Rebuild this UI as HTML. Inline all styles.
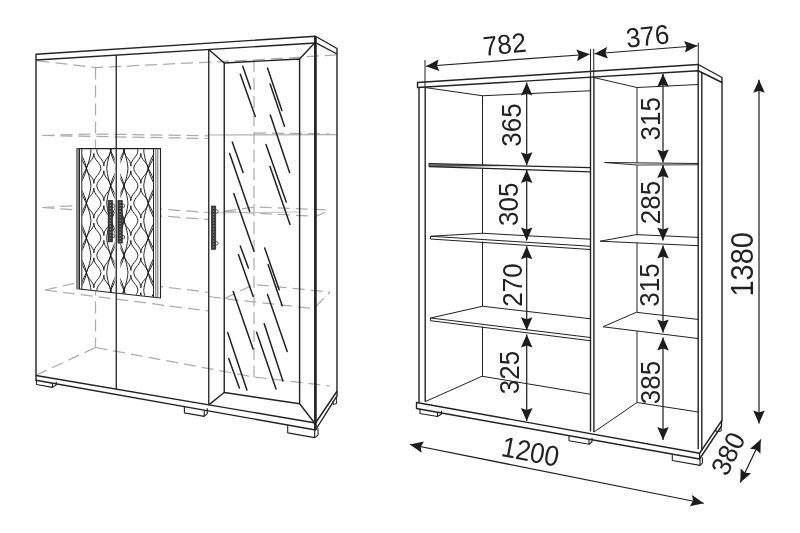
<!DOCTYPE html>
<html><head><meta charset="utf-8"><title>Cabinet</title>
<style>
html,body{margin:0;padding:0;background:#fff;}
body{width:800px;height:533px;overflow:hidden;}
svg{display:block;font-family:"Liberation Sans",sans-serif;will-change:transform;transform:translateZ(0);}
</style></head><body>
<svg width="800" height="533" viewBox="0 0 800 533">
<rect width="800" height="533" fill="#fff"/>
<polyline points="37.50,60.80 95.50,67.50 254.00,60.00 336.00,54.80" fill="none" stroke="#acacac" stroke-width="1.25" stroke-dasharray="12 6"/>
<polyline points="95.50,67.50 95.50,347.50" fill="none" stroke="#acacac" stroke-width="1.25" stroke-dasharray="12 6"/>
<polyline points="95.50,347.50 36.50,375.00" fill="none" stroke="#acacac" stroke-width="1.25" stroke-dasharray="12 6"/>
<polyline points="95.50,347.50 254.00,377.00 330.00,386.00" fill="none" stroke="#acacac" stroke-width="1.25" stroke-dasharray="12 6"/>
<polyline points="254.00,60.00 254.00,377.00" fill="none" stroke="#acacac" stroke-width="1.25" stroke-dasharray="12 6"/>
<polyline points="42.50,135.50 95.50,134.00 208.00,135.80" fill="none" stroke="#acacac" stroke-width="1.25" stroke-dasharray="12 6"/>
<polyline points="42.50,135.50 208.75,138.50" fill="none" stroke="#acacac" stroke-width="1.25" stroke-dasharray="12 6"/>
<polyline points="42.50,207.50 95.50,204.50 208.00,212.50" fill="none" stroke="#acacac" stroke-width="1.25" stroke-dasharray="12 6"/>
<polyline points="42.50,207.50 208.75,219.40" fill="none" stroke="#acacac" stroke-width="1.25" stroke-dasharray="12 6"/>
<polyline points="45.00,290.00 95.50,278.50 208.00,292.30" fill="none" stroke="#acacac" stroke-width="1.25" stroke-dasharray="12 6"/>
<polyline points="45.00,290.00 208.75,311.00" fill="none" stroke="#acacac" stroke-width="1.25" stroke-dasharray="12 6"/>
<polyline points="224.00,298.70 254.00,284.50 330.00,292.00" fill="none" stroke="#acacac" stroke-width="1.25" stroke-dasharray="12 6"/>
<polyline points="208.75,296.50 224.00,298.70 314.00,308.50 330.00,292.00" fill="none" stroke="#acacac" stroke-width="1.25" stroke-dasharray="12 6"/>
<polyline points="224.00,211.40 254.00,207.00 330.00,210.00" fill="none" stroke="#acacac" stroke-width="1.25" stroke-dasharray="12 6"/>
<polyline points="224.00,211.40 316.00,216.40 330.00,210.00" fill="none" stroke="#acacac" stroke-width="1.25" stroke-dasharray="12 6"/>
<polyline points="254.00,133.00 330.00,134.00" fill="none" stroke="#acacac" stroke-width="1.25" stroke-dasharray="12 6"/>
<line x1="209.00" y1="135.00" x2="337.00" y2="134.60" stroke="#b0b0b0" stroke-width="1.1" />
<line x1="209.00" y1="213.00" x2="300.00" y2="212.00" stroke="#c0c0c0" stroke-width="1.0" />
<polygon points="36.00,54.25 315.50,36.25 337.00,48.50 337.00,395.80 315.50,430.00 36.00,380.20" fill="none" stroke="#222" stroke-width="1.4" stroke-linejoin="round" />
<line x1="36.00" y1="60.00" x2="315.50" y2="43.00" stroke="#222" stroke-width="1.4" />
<line x1="315.50" y1="42.60" x2="337.00" y2="54.00" stroke="#222" stroke-width="1.4" />
<line x1="36.00" y1="375.50" x2="315.50" y2="423.00" stroke="#222" stroke-width="1.4" />
<line x1="315.50" y1="423.00" x2="337.00" y2="391.25" stroke="#222" stroke-width="1.4" />
<line x1="315.40" y1="36.50" x2="315.40" y2="429.70" stroke="#222" stroke-width="2.7" />
<line x1="116.25" y1="55.12" x2="116.25" y2="389.14" stroke="#222" stroke-width="1.3" />
<line x1="208.75" y1="49.49" x2="208.75" y2="404.86" stroke="#222" stroke-width="1.3" />
<polygon points="224.25,63.00 299.60,59.00 299.60,403.75 224.25,392.50" fill="none" stroke="#222" stroke-width="1.4" stroke-linejoin="round" />
<line x1="208.75" y1="49.49" x2="224.25" y2="63.00" stroke="#222" stroke-width="1.4" />
<line x1="314.60" y1="43.00" x2="299.60" y2="59.00" stroke="#222" stroke-width="1.4" />
<line x1="208.75" y1="404.86" x2="224.25" y2="392.50" stroke="#222" stroke-width="1.4" />
<line x1="314.60" y1="423.00" x2="299.60" y2="403.75" stroke="#222" stroke-width="1.4" />
<line x1="242.75" y1="66.25" x2="250.60" y2="88.75" stroke="#222" stroke-width="1.5" stroke-linecap="round"/>
<line x1="240.30" y1="74.30" x2="255.30" y2="116.50" stroke="#222" stroke-width="1.5" stroke-linecap="round"/>
<line x1="267.50" y1="68.10" x2="281.90" y2="110.50" stroke="#222" stroke-width="1.5" stroke-linecap="round"/>
<line x1="270.10" y1="84.00" x2="284.50" y2="126.20" stroke="#222" stroke-width="1.5" stroke-linecap="round"/>
<line x1="270.30" y1="115.00" x2="289.60" y2="172.50" stroke="#222" stroke-width="1.5" stroke-linecap="round"/>
<line x1="232.25" y1="142.10" x2="243.10" y2="172.50" stroke="#222" stroke-width="1.5" stroke-linecap="round"/>
<line x1="229.60" y1="153.40" x2="249.70" y2="211.50" stroke="#222" stroke-width="1.5" stroke-linecap="round"/>
<line x1="266.00" y1="144.40" x2="286.25" y2="202.10" stroke="#222" stroke-width="1.5" stroke-linecap="round"/>
<line x1="270.00" y1="166.50" x2="290.00" y2="224.60" stroke="#222" stroke-width="1.5" stroke-linecap="round"/>
<line x1="233.75" y1="193.50" x2="254.00" y2="251.30" stroke="#222" stroke-width="1.5" stroke-linecap="round"/>
<line x1="240.30" y1="246.00" x2="248.40" y2="268.10" stroke="#222" stroke-width="1.5" stroke-linecap="round"/>
<line x1="238.40" y1="254.60" x2="253.10" y2="296.30" stroke="#222" stroke-width="1.5" stroke-linecap="round"/>
<line x1="264.70" y1="248.00" x2="279.20" y2="289.70" stroke="#222" stroke-width="1.5" stroke-linecap="round"/>
<line x1="268.10" y1="264.40" x2="282.20" y2="305.70" stroke="#222" stroke-width="1.5" stroke-linecap="round"/>
<line x1="233.20" y1="291.60" x2="253.10" y2="349.10" stroke="#222" stroke-width="1.5" stroke-linecap="round"/>
<line x1="267.50" y1="294.40" x2="287.20" y2="351.60" stroke="#222" stroke-width="1.5" stroke-linecap="round"/>
<line x1="264.20" y1="323.80" x2="282.90" y2="381.00" stroke="#222" stroke-width="1.5" stroke-linecap="round"/>
<line x1="256.60" y1="332.30" x2="276.00" y2="389.10" stroke="#222" stroke-width="1.5" stroke-linecap="round"/>
<line x1="227.75" y1="332.80" x2="246.90" y2="390.00" stroke="#222" stroke-width="1.5" stroke-linecap="round"/>
<line x1="228.70" y1="358.50" x2="239.40" y2="388.10" stroke="#222" stroke-width="1.5" stroke-linecap="round"/>
<polyline points="36.50,380.29 36.50,384.49 52.50,387.34 52.50,383.14" fill="none" stroke="#222" stroke-width="1.1" stroke-linejoin="round" />
<polyline points="52.50,387.34 56.25,384.84 56.25,381.64" fill="none" stroke="#222" stroke-width="1.1" stroke-linejoin="round" />
<polyline points="184.40,406.64 184.40,412.84 204.20,416.37 204.20,410.17" fill="none" stroke="#222" stroke-width="1.1" stroke-linejoin="round" />
<polyline points="204.20,416.37 207.30,413.57 207.30,408.37" fill="none" stroke="#222" stroke-width="1.1" stroke-linejoin="round" />
<polyline points="287.70,425.05 287.70,432.85 314.70,437.66 314.70,429.86" fill="none" stroke="#222" stroke-width="1.1" stroke-linejoin="round" />
<polyline points="314.70,437.66 318.00,435.16 318.00,428.36" fill="none" stroke="#222" stroke-width="1.1" stroke-linejoin="round" />
<polyline points="333.00,401.00 333.00,404.50 336.60,403.50 336.60,396.00" fill="none" stroke="#222" stroke-width="1.0" stroke-linejoin="round" />
<defs><clipPath id="cpL"><polygon points="82.3,149.2 114.7,149.2 114.7,292.33 82.3,288.74"/></clipPath>
<clipPath id="cpR"><polygon points="120.3,149.2 153,149.2 153,296.57 120.3,292.95"/></clipPath></defs>
<polygon points="77.00,148.60 160.50,148.60 160.50,298.00 77.00,288.75" fill="#fff" stroke="#222" stroke-width="1.1" stroke-linejoin="round" />
<polygon points="77,148.6 79.5,148.6 79.5,289.03 77,288.75" fill="#888"/>
<line x1="79.50" y1="148.60" x2="79.50" y2="289.03" stroke="#222" stroke-width="1.0" />
<line x1="81.80" y1="148.60" x2="81.80" y2="289.28" stroke="#222" stroke-width="1.0" />
<line x1="153.50" y1="148.60" x2="153.50" y2="297.22" stroke="#222" stroke-width="1.0" />
<line x1="155.80" y1="148.60" x2="155.80" y2="297.48" stroke="#666" stroke-width="1.0" />
<line x1="157.80" y1="148.60" x2="157.80" y2="297.70" stroke="#666" stroke-width="1.0" />
<path d="M79.50,116.20 C80.40,118.20 85.62,127.07 86.40,133.60 C85.62,140.13 80.40,149.00 79.50,151.00 C78.60,149.00 72.84,140.13 72.00,133.60 C72.84,127.07 78.60,118.20 79.50,116.20  M79.50,151.00 C80.40,153.00 85.62,161.87 86.40,168.40 C85.62,174.93 80.40,183.80 79.50,185.80 C78.60,183.80 72.84,174.93 72.00,168.40 C72.84,161.87 78.60,153.00 79.50,151.00  M79.50,185.80 C80.40,187.80 85.62,196.67 86.40,203.20 C85.62,209.73 80.40,218.60 79.50,220.60 C78.60,218.60 72.84,209.73 72.00,203.20 C72.84,196.67 78.60,187.80 79.50,185.80  M79.50,220.60 C80.40,222.60 85.62,231.47 86.40,238.00 C85.62,244.53 80.40,253.40 79.50,255.40 C78.60,253.40 72.84,244.53 72.00,238.00 C72.84,231.47 78.60,222.60 79.50,220.60  M79.50,255.40 C80.40,257.40 85.62,266.27 86.40,272.80 C85.62,279.33 80.40,288.20 79.50,290.20 C78.60,288.20 72.84,279.33 72.00,272.80 C72.84,266.27 78.60,257.40 79.50,255.40  M79.50,290.20 C80.40,292.20 85.62,301.07 86.40,307.60 C85.62,314.13 80.40,323.00 79.50,325.00 C78.60,323.00 72.84,314.13 72.00,307.60 C72.84,301.07 78.60,292.20 79.50,290.20  M86.40,133.60 C87.30,135.60 90.44,144.47 90.95,151.00 C90.44,157.53 87.30,166.40 86.40,168.40 C85.50,166.40 80.28,157.53 79.50,151.00 C80.28,144.47 85.50,135.60 86.40,133.60  M86.40,168.40 C87.30,170.40 90.44,179.27 90.95,185.80 C90.44,192.33 87.30,201.20 86.40,203.20 C85.50,201.20 80.28,192.33 79.50,185.80 C80.28,179.27 85.50,170.40 86.40,168.40  M86.40,203.20 C87.30,205.20 90.44,214.07 90.95,220.60 C90.44,227.13 87.30,236.00 86.40,238.00 C85.50,236.00 80.28,227.13 79.50,220.60 C80.28,214.07 85.50,205.20 86.40,203.20  M86.40,238.00 C87.30,240.00 90.44,248.87 90.95,255.40 C90.44,261.93 87.30,270.80 86.40,272.80 C85.50,270.80 80.28,261.93 79.50,255.40 C80.28,248.87 85.50,240.00 86.40,238.00  M86.40,272.80 C87.30,274.80 90.44,283.67 90.95,290.20 C90.44,296.73 87.30,305.60 86.40,307.60 C85.50,305.60 80.28,296.73 79.50,290.20 C80.28,283.67 85.50,274.80 86.40,272.80  M93.85,118.65 C93.85,125.65 100.15,127.07 100.95,133.60 C100.15,140.13 93.85,141.55 93.85,148.55 C93.85,141.55 87.24,140.13 86.40,133.60 C87.24,127.07 93.85,125.65 93.85,118.65  M93.85,153.45 C93.85,160.45 100.15,161.87 100.95,168.40 C100.15,174.93 93.85,176.35 93.85,183.35 C93.85,176.35 87.24,174.93 86.40,168.40 C87.24,161.87 93.85,160.45 93.85,153.45  M93.85,188.25 C93.85,195.25 100.15,196.67 100.95,203.20 C100.15,209.73 93.85,211.15 93.85,218.15 C93.85,211.15 87.24,209.73 86.40,203.20 C87.24,196.67 93.85,195.25 93.85,188.25  M93.85,223.05 C93.85,230.05 100.15,231.47 100.95,238.00 C100.15,244.53 93.85,245.95 93.85,252.95 C93.85,245.95 87.24,244.53 86.40,238.00 C87.24,231.47 93.85,230.05 93.85,223.05  M93.85,257.85 C93.85,264.85 100.15,266.27 100.95,272.80 C100.15,279.33 93.85,280.75 93.85,287.75 C93.85,280.75 87.24,279.33 86.40,272.80 C87.24,266.27 93.85,264.85 93.85,257.85  M93.85,292.65 C93.85,299.65 100.15,301.07 100.95,307.60 C100.15,314.13 93.85,315.55 93.85,322.55 C93.85,315.55 87.24,314.13 86.40,307.60 C87.24,301.07 93.85,299.65 93.85,292.65  M103.85,136.05 C103.85,143.05 109.93,144.47 110.70,151.00 C109.93,157.53 103.85,158.95 103.85,165.95 C103.85,158.95 97.55,157.53 96.75,151.00 C97.55,144.47 103.85,143.05 103.85,136.05  M103.85,170.85 C103.85,177.85 109.93,179.27 110.70,185.80 C109.93,192.33 103.85,193.75 103.85,200.75 C103.85,193.75 97.55,192.33 96.75,185.80 C97.55,179.27 103.85,177.85 103.85,170.85  M103.85,205.65 C103.85,212.65 109.93,214.07 110.70,220.60 C109.93,227.13 103.85,228.55 103.85,235.55 C103.85,228.55 97.55,227.13 96.75,220.60 C97.55,214.07 103.85,212.65 103.85,205.65  M103.85,240.45 C103.85,247.45 109.93,248.87 110.70,255.40 C109.93,261.93 103.85,263.35 103.85,270.35 C103.85,263.35 97.55,261.93 96.75,255.40 C97.55,248.87 103.85,247.45 103.85,240.45  M103.85,275.25 C103.85,282.25 109.93,283.67 110.70,290.20 C109.93,296.73 103.85,298.15 103.85,305.15 C103.85,298.15 97.55,296.73 96.75,290.20 C97.55,283.67 103.85,282.25 103.85,275.25  M110.70,116.20 C111.60,118.20 116.74,127.07 117.50,133.60 C116.74,140.13 111.60,149.00 110.70,151.00 C109.80,149.00 107.19,140.13 106.75,133.60 C107.19,127.07 109.80,118.20 110.70,116.20  M110.70,151.00 C111.60,153.00 116.74,161.87 117.50,168.40 C116.74,174.93 111.60,183.80 110.70,185.80 C109.80,183.80 107.19,174.93 106.75,168.40 C107.19,161.87 109.80,153.00 110.70,151.00  M110.70,185.80 C111.60,187.80 116.74,196.67 117.50,203.20 C116.74,209.73 111.60,218.60 110.70,220.60 C109.80,218.60 107.19,209.73 106.75,203.20 C107.19,196.67 109.80,187.80 110.70,185.80  M110.70,220.60 C111.60,222.60 116.74,231.47 117.50,238.00 C116.74,244.53 111.60,253.40 110.70,255.40 C109.80,253.40 107.19,244.53 106.75,238.00 C107.19,231.47 109.80,222.60 110.70,220.60  M110.70,255.40 C111.60,257.40 116.74,266.27 117.50,272.80 C116.74,279.33 111.60,288.20 110.70,290.20 C109.80,288.20 107.19,279.33 106.75,272.80 C107.19,266.27 109.80,257.40 110.70,255.40  M110.70,290.20 C111.60,292.20 116.74,301.07 117.50,307.60 C116.74,314.13 111.60,323.00 110.70,325.00 C109.80,323.00 107.19,314.13 106.75,307.60 C107.19,301.07 109.80,292.20 110.70,290.20  M117.50,133.60 C118.40,135.60 124.16,144.47 125.00,151.00 C124.16,157.53 118.40,166.40 117.50,168.40 C116.60,166.40 111.46,157.53 110.70,151.00 C111.46,144.47 116.60,135.60 117.50,133.60  M117.50,168.40 C118.40,170.40 124.16,179.27 125.00,185.80 C124.16,192.33 118.40,201.20 117.50,203.20 C116.60,201.20 111.46,192.33 110.70,185.80 C111.46,179.27 116.60,170.40 117.50,168.40  M117.50,203.20 C118.40,205.20 124.16,214.07 125.00,220.60 C124.16,227.13 118.40,236.00 117.50,238.00 C116.60,236.00 111.46,227.13 110.70,220.60 C111.46,214.07 116.60,205.20 117.50,203.20  M117.50,238.00 C118.40,240.00 124.16,248.87 125.00,255.40 C124.16,261.93 118.40,270.80 117.50,272.80 C116.60,270.80 111.46,261.93 110.70,255.40 C111.46,248.87 116.60,240.00 117.50,238.00  M117.50,272.80 C118.40,274.80 124.16,283.67 125.00,290.20 C124.16,296.73 118.40,305.60 117.50,307.60 C116.60,305.60 111.46,296.73 110.70,290.20 C111.46,283.67 116.60,274.80 117.50,272.80 " fill="none" stroke="#1a1a1a" stroke-width="0.95" stroke-linejoin="round" clip-path="url(#cpL)"/>
<path d="M117.20,133.60 C118.10,135.60 123.24,144.47 124.00,151.00 C123.24,157.53 118.10,166.40 117.20,168.40 C116.30,166.40 110.54,157.53 109.70,151.00 C110.54,144.47 116.30,135.60 117.20,133.60  M117.20,168.40 C118.10,170.40 123.24,179.27 124.00,185.80 C123.24,192.33 118.10,201.20 117.20,203.20 C116.30,201.20 110.54,192.33 109.70,185.80 C110.54,179.27 116.30,170.40 117.20,168.40  M117.20,203.20 C118.10,205.20 123.24,214.07 124.00,220.60 C123.24,227.13 118.10,236.00 117.20,238.00 C116.30,236.00 110.54,227.13 109.70,220.60 C110.54,214.07 116.30,205.20 117.20,203.20  M117.20,238.00 C118.10,240.00 123.24,248.87 124.00,255.40 C123.24,261.93 118.10,270.80 117.20,272.80 C116.30,270.80 110.54,261.93 109.70,255.40 C110.54,248.87 116.30,240.00 117.20,238.00  M117.20,272.80 C118.10,274.80 123.24,283.67 124.00,290.20 C123.24,296.73 118.10,305.60 117.20,307.60 C116.30,305.60 110.54,296.73 109.70,290.20 C110.54,283.67 116.30,274.80 117.20,272.80  M124.00,116.20 C124.90,118.20 127.51,127.07 127.95,133.60 C127.51,140.13 124.90,149.00 124.00,151.00 C123.10,149.00 117.96,140.13 117.20,133.60 C117.96,127.07 123.10,118.20 124.00,116.20  M124.00,151.00 C124.90,153.00 127.51,161.87 127.95,168.40 C127.51,174.93 124.90,183.80 124.00,185.80 C123.10,183.80 117.96,174.93 117.20,168.40 C117.96,161.87 123.10,153.00 124.00,151.00  M124.00,185.80 C124.90,187.80 127.51,196.67 127.95,203.20 C127.51,209.73 124.90,218.60 124.00,220.60 C123.10,218.60 117.96,209.73 117.20,203.20 C117.96,196.67 123.10,187.80 124.00,185.80  M124.00,220.60 C124.90,222.60 127.51,231.47 127.95,238.00 C127.51,244.53 124.90,253.40 124.00,255.40 C123.10,253.40 117.96,244.53 117.20,238.00 C117.96,231.47 123.10,222.60 124.00,220.60  M124.00,255.40 C124.90,257.40 127.51,266.27 127.95,272.80 C127.51,279.33 124.90,288.20 124.00,290.20 C123.10,288.20 117.96,279.33 117.20,272.80 C117.96,266.27 123.10,257.40 124.00,255.40  M124.00,290.20 C124.90,292.20 127.51,301.07 127.95,307.60 C127.51,314.13 124.90,323.00 124.00,325.00 C123.10,323.00 117.96,314.13 117.20,307.60 C117.96,301.07 123.10,292.20 124.00,290.20  M130.85,136.05 C130.85,143.05 137.15,144.47 137.95,151.00 C137.15,157.53 130.85,158.95 130.85,165.95 C130.85,158.95 124.77,157.53 124.00,151.00 C124.77,144.47 130.85,143.05 130.85,136.05  M130.85,170.85 C130.85,177.85 137.15,179.27 137.95,185.80 C137.15,192.33 130.85,193.75 130.85,200.75 C130.85,193.75 124.77,192.33 124.00,185.80 C124.77,179.27 130.85,177.85 130.85,170.85  M130.85,205.65 C130.85,212.65 137.15,214.07 137.95,220.60 C137.15,227.13 130.85,228.55 130.85,235.55 C130.85,228.55 124.77,227.13 124.00,220.60 C124.77,214.07 130.85,212.65 130.85,205.65  M130.85,240.45 C130.85,247.45 137.15,248.87 137.95,255.40 C137.15,261.93 130.85,263.35 130.85,270.35 C130.85,263.35 124.77,261.93 124.00,255.40 C124.77,248.87 130.85,247.45 130.85,240.45  M130.85,275.25 C130.85,282.25 137.15,283.67 137.95,290.20 C137.15,296.73 130.85,298.15 130.85,305.15 C130.85,298.15 124.77,296.73 124.00,290.20 C124.77,283.67 130.85,282.25 130.85,275.25  M140.85,118.65 C140.85,125.65 147.46,127.07 148.30,133.60 C147.46,140.13 140.85,141.55 140.85,148.55 C140.85,141.55 134.55,140.13 133.75,133.60 C134.55,127.07 140.85,125.65 140.85,118.65  M140.85,153.45 C140.85,160.45 147.46,161.87 148.30,168.40 C147.46,174.93 140.85,176.35 140.85,183.35 C140.85,176.35 134.55,174.93 133.75,168.40 C134.55,161.87 140.85,160.45 140.85,153.45  M140.85,188.25 C140.85,195.25 147.46,196.67 148.30,203.20 C147.46,209.73 140.85,211.15 140.85,218.15 C140.85,211.15 134.55,209.73 133.75,203.20 C134.55,196.67 140.85,195.25 140.85,188.25  M140.85,223.05 C140.85,230.05 147.46,231.47 148.30,238.00 C147.46,244.53 140.85,245.95 140.85,252.95 C140.85,245.95 134.55,244.53 133.75,238.00 C134.55,231.47 140.85,230.05 140.85,223.05  M140.85,257.85 C140.85,264.85 147.46,266.27 148.30,272.80 C147.46,279.33 140.85,280.75 140.85,287.75 C140.85,280.75 134.55,279.33 133.75,272.80 C134.55,266.27 140.85,264.85 140.85,257.85  M140.85,292.65 C140.85,299.65 147.46,301.07 148.30,307.60 C147.46,314.13 140.85,315.55 140.85,322.55 C140.85,315.55 134.55,314.13 133.75,307.60 C134.55,301.07 140.85,299.65 140.85,292.65  M148.30,133.60 C149.20,135.60 154.42,144.47 155.20,151.00 C154.42,157.53 149.20,166.40 148.30,168.40 C147.40,166.40 144.26,157.53 143.75,151.00 C144.26,144.47 147.40,135.60 148.30,133.60  M148.30,168.40 C149.20,170.40 154.42,179.27 155.20,185.80 C154.42,192.33 149.20,201.20 148.30,203.20 C147.40,201.20 144.26,192.33 143.75,185.80 C144.26,179.27 147.40,170.40 148.30,168.40  M148.30,203.20 C149.20,205.20 154.42,214.07 155.20,220.60 C154.42,227.13 149.20,236.00 148.30,238.00 C147.40,236.00 144.26,227.13 143.75,220.60 C144.26,214.07 147.40,205.20 148.30,203.20  M148.30,238.00 C149.20,240.00 154.42,248.87 155.20,255.40 C154.42,261.93 149.20,270.80 148.30,272.80 C147.40,270.80 144.26,261.93 143.75,255.40 C144.26,248.87 147.40,240.00 148.30,238.00  M148.30,272.80 C149.20,274.80 154.42,283.67 155.20,290.20 C154.42,296.73 149.20,305.60 148.30,307.60 C147.40,305.60 144.26,296.73 143.75,290.20 C144.26,283.67 147.40,274.80 148.30,272.80  M155.20,116.20 C156.10,118.20 161.86,127.07 162.70,133.60 C161.86,140.13 156.10,149.00 155.20,151.00 C154.30,149.00 149.08,140.13 148.30,133.60 C149.08,127.07 154.30,118.20 155.20,116.20  M155.20,151.00 C156.10,153.00 161.86,161.87 162.70,168.40 C161.86,174.93 156.10,183.80 155.20,185.80 C154.30,183.80 149.08,174.93 148.30,168.40 C149.08,161.87 154.30,153.00 155.20,151.00  M155.20,185.80 C156.10,187.80 161.86,196.67 162.70,203.20 C161.86,209.73 156.10,218.60 155.20,220.60 C154.30,218.60 149.08,209.73 148.30,203.20 C149.08,196.67 154.30,187.80 155.20,185.80  M155.20,220.60 C156.10,222.60 161.86,231.47 162.70,238.00 C161.86,244.53 156.10,253.40 155.20,255.40 C154.30,253.40 149.08,244.53 148.30,238.00 C149.08,231.47 154.30,222.60 155.20,220.60  M155.20,255.40 C156.10,257.40 161.86,266.27 162.70,272.80 C161.86,279.33 156.10,288.20 155.20,290.20 C154.30,288.20 149.08,279.33 148.30,272.80 C149.08,266.27 154.30,257.40 155.20,255.40  M155.20,290.20 C156.10,292.20 161.86,301.07 162.70,307.60 C161.86,314.13 156.10,323.00 155.20,325.00 C154.30,323.00 149.08,314.13 148.30,307.60 C149.08,301.07 154.30,292.20 155.20,290.20 " fill="none" stroke="#1a1a1a" stroke-width="0.95" stroke-linejoin="round" clip-path="url(#cpR)"/>
<line x1="116.25" y1="148.60" x2="116.25" y2="293.10" stroke="#222" stroke-width="1.3" />
<circle cx="113.20" cy="205.80" r="1.7" fill="#fff" stroke="#333" stroke-width="0.8"/>
<circle cx="113.20" cy="235.90" r="1.7" fill="#fff" stroke="#333" stroke-width="0.8"/>
<rect x="108.1" y="200.3" width="4.5" height="41.599999999999994" fill="#383838" stroke="#222" stroke-width="0.6"/>
<line x1="110.35" y1="201.8" x2="110.35" y2="240.9" stroke="#8a8a8a" stroke-width="1.3" stroke-dasharray="1.3 1.7"/>
<circle cx="123.00" cy="205.80" r="1.7" fill="#fff" stroke="#333" stroke-width="0.8"/>
<circle cx="123.00" cy="237.10" r="1.7" fill="#fff" stroke="#333" stroke-width="0.8"/>
<rect x="117.9" y="200.3" width="4.5" height="42.79999999999998" fill="#383838" stroke="#222" stroke-width="0.6"/>
<line x1="120.15" y1="201.8" x2="120.15" y2="242.1" stroke="#8a8a8a" stroke-width="1.3" stroke-dasharray="1.3 1.7"/>
<circle cx="216.40" cy="211.50" r="1.7" fill="#fff" stroke="#333" stroke-width="0.8"/>
<circle cx="216.40" cy="243.30" r="1.7" fill="#fff" stroke="#333" stroke-width="0.8"/>
<rect x="211.3" y="206" width="4.5" height="43.30000000000001" fill="#383838" stroke="#222" stroke-width="0.6"/>
<line x1="213.55" y1="207.5" x2="213.55" y2="248.3" stroke="#8a8a8a" stroke-width="1.3" stroke-dasharray="1.3 1.7"/>
<polygon points="417.50,82.50 698.25,64.50 722.00,77.50 722.00,82.50 698.25,70.75 417.50,87.50" fill="none" stroke="#222" stroke-width="1.4" stroke-linejoin="round" />
<line x1="698.25" y1="64.50" x2="698.25" y2="70.75" stroke="#222" stroke-width="1.4" />
<line x1="722.00" y1="82.50" x2="722.00" y2="421.50" stroke="#222" stroke-width="1.4" />
<line x1="419.00" y1="87.50" x2="419.00" y2="402.50" stroke="#222" stroke-width="1.4" />
<line x1="425.20" y1="87.20" x2="425.20" y2="401.80" stroke="#222" stroke-width="1.4" />
<line x1="590.50" y1="77.18" x2="590.50" y2="431.50" stroke="#222" stroke-width="1.4" />
<line x1="593.90" y1="76.98" x2="593.90" y2="432.00" stroke="#222" stroke-width="1.4" />
<line x1="698.20" y1="70.75" x2="698.20" y2="449.20" stroke="#222" stroke-width="1.4" />
<line x1="701.80" y1="72.50" x2="701.80" y2="449.60" stroke="#222" stroke-width="1.4" />
<polygon points="416.50,402.50 699.60,453.25 721.50,420.80 721.50,426.00 699.60,459.00 416.50,408.50" fill="none" stroke="#222" stroke-width="1.4" stroke-linejoin="round" />
<line x1="699.60" y1="453.25" x2="699.60" y2="459.00" stroke="#222" stroke-width="1.4" />
<polyline points="425.00,87.50 482.50,95.75 590.50,90.75" fill="none" stroke="#222" stroke-width="1.0" stroke-linejoin="round" />
<polyline points="425.30,401.60 482.00,376.25 590.50,394.25" fill="none" stroke="#222" stroke-width="1.0" stroke-linejoin="round" />
<line x1="482.50" y1="95.75" x2="482.50" y2="165.50" stroke="#222" stroke-width="1.0" />
<line x1="482.50" y1="168.30" x2="482.50" y2="233.25" stroke="#222" stroke-width="1.0" />
<line x1="482.50" y1="241.50" x2="482.50" y2="306.25" stroke="#222" stroke-width="1.0" />
<line x1="482.50" y1="326.50" x2="482.50" y2="376.25" stroke="#222" stroke-width="1.0" />
<polygon points="429,163.5 500,165.3 429,166.4" fill="#777"/>
<polyline points="429.00,163.50 590.50,167.70" fill="none" stroke="#222" stroke-width="1.2" stroke-linejoin="round" />
<polyline points="429.00,166.60 590.50,171.80" fill="none" stroke="#222" stroke-width="1.2" stroke-linejoin="round" />
<line x1="429.00" y1="163.50" x2="429.00" y2="166.60" stroke="#222" stroke-width="1.0" />
<polyline points="429.00,166.30 505.00,165.60" fill="none" stroke="#222" stroke-width="0.9" stroke-linejoin="round" />
<polyline points="430.50,236.25 482.50,233.25 590.50,239.25" fill="none" stroke="#222" stroke-width="1.0" stroke-linejoin="round" />
<polyline points="430.50,236.25 590.50,246.25" fill="none" stroke="#222" stroke-width="1.0" stroke-linejoin="round" />
<polyline points="430.50,236.25 430.50,239.00 590.50,249.50" fill="none" stroke="#222" stroke-width="1.0" stroke-linejoin="round" />
<polyline points="430.50,318.00 482.50,306.25 590.50,318.75" fill="none" stroke="#222" stroke-width="1.0" stroke-linejoin="round" />
<polyline points="430.50,318.00 590.50,337.50" fill="none" stroke="#222" stroke-width="1.0" stroke-linejoin="round" />
<polyline points="430.50,318.00 430.50,320.70 590.50,340.75" fill="none" stroke="#222" stroke-width="1.0" stroke-linejoin="round" />
<polyline points="593.75,77.50 637.00,87.50 698.25,84.50" fill="none" stroke="#222" stroke-width="1.0" stroke-linejoin="round" />
<polyline points="594.00,432.00 637.00,402.50 698.20,412.00" fill="none" stroke="#222" stroke-width="1.0" stroke-linejoin="round" />
<line x1="637.00" y1="87.50" x2="637.00" y2="162.80" stroke="#222" stroke-width="1.0" />
<line x1="637.00" y1="165.00" x2="637.00" y2="235.30" stroke="#222" stroke-width="1.0" />
<line x1="637.00" y1="243.00" x2="637.00" y2="312.00" stroke="#222" stroke-width="1.0" />
<line x1="637.00" y1="331.00" x2="637.00" y2="402.50" stroke="#222" stroke-width="1.0" />
<polyline points="604.50,162.50 698.25,163.50" fill="none" stroke="#222" stroke-width="1.0" stroke-linejoin="round" />
<polyline points="604.50,162.50 637.00,165.00 698.25,164.75" fill="none" stroke="#222" stroke-width="0.9" stroke-linejoin="round" />
<polyline points="600.10,241.20 636.30,234.60 698.00,237.40" fill="none" stroke="#222" stroke-width="1.0" stroke-linejoin="round" />
<polyline points="600.10,241.20 698.00,245.70" fill="none" stroke="#222" stroke-width="1.0" stroke-linejoin="round" />
<polyline points="603.00,326.80 636.30,312.30 698.00,319.40" fill="none" stroke="#222" stroke-width="1.0" stroke-linejoin="round" />
<polyline points="603.00,326.80 698.00,338.50" fill="none" stroke="#222" stroke-width="1.0" stroke-linejoin="round" />
<polyline points="420.00,409.12 420.00,413.42 437.50,416.55 437.50,412.25" fill="none" stroke="#222" stroke-width="1.1" stroke-linejoin="round" />
<polyline points="437.50,416.55 441.50,413.95 441.50,410.65" fill="none" stroke="#222" stroke-width="1.1" stroke-linejoin="round" />
<polyline points="569.00,435.70 569.00,440.70 589.00,444.27 589.00,439.27" fill="none" stroke="#222" stroke-width="1.1" stroke-linejoin="round" />
<polyline points="589.00,444.27 592.00,441.77 592.00,437.77" fill="none" stroke="#222" stroke-width="1.1" stroke-linejoin="round" />
<polyline points="672.30,454.13 672.30,460.43 700.00,465.37 700.00,459.07" fill="none" stroke="#222" stroke-width="1.1" stroke-linejoin="round" />
<polyline points="700.00,465.37 702.40,462.77 702.40,457.47" fill="none" stroke="#222" stroke-width="1.1" stroke-linejoin="round" />
<polyline points="716.00,428.50 716.00,432.00 721.20,431.00 721.20,426.25" fill="none" stroke="#222" stroke-width="1.0" stroke-linejoin="round" />
<line x1="425.00" y1="60.00" x2="425.00" y2="87.50" stroke="#222" stroke-width="1.0" />
<line x1="590.50" y1="48.75" x2="590.50" y2="77.18" stroke="#222" stroke-width="1.0" />
<line x1="593.75" y1="48.75" x2="593.75" y2="76.98" stroke="#222" stroke-width="1.0" />
<line x1="698.25" y1="42.50" x2="698.25" y2="64.50" stroke="#222" stroke-width="1.0" />
<line x1="426.00" y1="66.25" x2="589.70" y2="54.25" stroke="#222" stroke-width="1.25" />
<polygon points="589.70,54.25 577.16,60.94 578.73,55.05 576.31,49.47" fill="#1c1c1c"/>
<polygon points="426.00,66.25 438.54,59.56 436.97,65.45 439.39,71.03" fill="#1c1c1c"/>
<line x1="594.50" y1="53.75" x2="697.50" y2="45.75" stroke="#222" stroke-width="1.25" />
<polygon points="697.50,45.75 684.98,52.49 686.53,46.60 684.09,41.02" fill="#1c1c1c"/>
<polygon points="594.50,53.75 607.02,47.01 605.47,52.90 607.91,58.48" fill="#1c1c1c"/>
<line x1="526.70" y1="82.50" x2="526.70" y2="165.30" stroke="#222" stroke-width="1.25" />
<polygon points="526.70,165.30 520.95,152.30 526.70,154.30 532.45,152.30" fill="#1c1c1c"/>
<polygon points="526.70,82.50 532.45,95.50 526.70,93.50 520.95,95.50" fill="#1c1c1c"/>
<line x1="526.70" y1="170.00" x2="526.70" y2="240.60" stroke="#222" stroke-width="1.25" />
<polygon points="526.70,240.60 520.95,227.60 526.70,229.60 532.45,227.60" fill="#1c1c1c"/>
<polygon points="526.70,170.00 532.45,183.00 526.70,181.00 520.95,183.00" fill="#1c1c1c"/>
<line x1="526.70" y1="246.30" x2="526.70" y2="330.30" stroke="#222" stroke-width="1.25" />
<polygon points="526.70,330.30 520.95,317.30 526.70,319.30 532.45,317.30" fill="#1c1c1c"/>
<polygon points="526.70,246.30 532.45,259.30 526.70,257.30 520.95,259.30" fill="#1c1c1c"/>
<line x1="526.70" y1="334.40" x2="526.70" y2="421.00" stroke="#222" stroke-width="1.25" />
<polygon points="526.70,421.00 520.95,408.00 526.70,410.00 532.45,408.00" fill="#1c1c1c"/>
<polygon points="526.70,334.40 532.45,347.40 526.70,345.40 520.95,347.40" fill="#1c1c1c"/>
<line x1="663.00" y1="73.75" x2="663.00" y2="162.50" stroke="#222" stroke-width="1.25" />
<polygon points="663.00,162.50 657.25,149.50 663.00,151.50 668.75,149.50" fill="#1c1c1c"/>
<polygon points="663.00,73.75 668.75,86.75 663.00,84.75 657.25,86.75" fill="#1c1c1c"/>
<line x1="663.00" y1="165.00" x2="663.00" y2="240.50" stroke="#222" stroke-width="1.25" />
<polygon points="663.00,240.50 657.25,227.50 663.00,229.50 668.75,227.50" fill="#1c1c1c"/>
<polygon points="663.00,165.00 668.75,178.00 663.00,176.00 657.25,178.00" fill="#1c1c1c"/>
<line x1="663.00" y1="245.50" x2="663.00" y2="332.50" stroke="#222" stroke-width="1.25" />
<polygon points="663.00,332.50 657.25,319.50 663.00,321.50 668.75,319.50" fill="#1c1c1c"/>
<polygon points="663.00,245.50 668.75,258.50 663.00,256.50 657.25,258.50" fill="#1c1c1c"/>
<line x1="663.00" y1="337.50" x2="663.00" y2="440.00" stroke="#222" stroke-width="1.25" />
<polygon points="663.00,440.00 657.25,427.00 663.00,429.00 668.75,427.00" fill="#1c1c1c"/>
<polygon points="663.00,337.50 668.75,350.50 663.00,348.50 657.25,350.50" fill="#1c1c1c"/>
<line x1="759.00" y1="79.70" x2="759.00" y2="423.50" stroke="#222" stroke-width="1.25" />
<polygon points="759.00,423.50 753.25,410.50 759.00,412.50 764.75,410.50" fill="#1c1c1c"/>
<polygon points="759.00,79.70 764.75,92.70 759.00,90.70 753.25,92.70" fill="#1c1c1c"/>
<line x1="410.00" y1="444.50" x2="703.75" y2="503.25" stroke="#222" stroke-width="1.25" />
<polygon points="703.75,503.25 689.87,506.34 692.96,501.09 692.13,495.06" fill="#1c1c1c"/>
<polygon points="410.00,444.50 423.88,441.41 420.79,446.66 421.62,452.69" fill="#1c1c1c"/>
<line x1="740.30" y1="482.60" x2="760.80" y2="439.60" stroke="#222" stroke-width="1.25" />
<polygon points="760.80,439.60 760.40,453.81 756.07,449.53 750.02,448.86" fill="#1c1c1c"/>
<polygon points="740.30,482.60 740.70,468.39 745.03,472.67 751.08,473.34" fill="#1c1c1c"/>
<text x="0" y="0" transform="translate(504.50,44.50) rotate(-6) scale(1,1.05) " font-size="26" text-anchor="middle" dominant-baseline="central" fill="#222">782</text>
<text x="0" y="0" transform="translate(647.50,36.25) rotate(-6) scale(1,1.05) " font-size="26" text-anchor="middle" dominant-baseline="central" fill="#222">376</text>
<text x="0" y="0" transform="translate(512.00,125.00) rotate(-90) scale(1,1.05) " font-size="26" text-anchor="middle" dominant-baseline="central" fill="#222">365</text>
<text x="0" y="0" transform="translate(509.00,204.30) rotate(-90) scale(1,1.05) " font-size="26" text-anchor="middle" dominant-baseline="central" fill="#222">305</text>
<text x="0" y="0" transform="translate(512.40,285.00) rotate(-90) scale(1,1.05) " font-size="26" text-anchor="middle" dominant-baseline="central" fill="#222">270</text>
<text x="0" y="0" transform="translate(510.00,372.50) rotate(-90) scale(1,1.05) " font-size="26" text-anchor="middle" dominant-baseline="central" fill="#222">325</text>
<text x="0" y="0" transform="translate(651.25,118.75) rotate(-90) scale(1,1.05) " font-size="26" text-anchor="middle" dominant-baseline="central" fill="#222">315</text>
<text x="0" y="0" transform="translate(650.50,202.50) rotate(-90) scale(1,1.05) " font-size="26" text-anchor="middle" dominant-baseline="central" fill="#222">285</text>
<text x="0" y="0" transform="translate(650.00,285.00) rotate(-90) scale(1,1.05) " font-size="26" text-anchor="middle" dominant-baseline="central" fill="#222">315</text>
<text x="0" y="0" transform="translate(651.25,382.50) rotate(-90) scale(1,1.05) " font-size="26" text-anchor="middle" dominant-baseline="central" fill="#222">385</text>
<text x="0" y="0" transform="translate(741.80,264.30) rotate(-90) scale(1,1.05) " font-size="29" text-anchor="middle" dominant-baseline="central" fill="#222">1380</text>
<text transform="matrix(0.98,0.195,-0.21,1.08,530.5,451.5)" font-size="26" text-anchor="middle" dominant-baseline="central" fill="#222">1200</text>
<text x="0" y="0" transform="translate(728.25,453.75) rotate(-63.7) scale(1,1.05) " font-size="26" text-anchor="middle" dominant-baseline="central" fill="#222">380</text>
</svg>
</body></html>
